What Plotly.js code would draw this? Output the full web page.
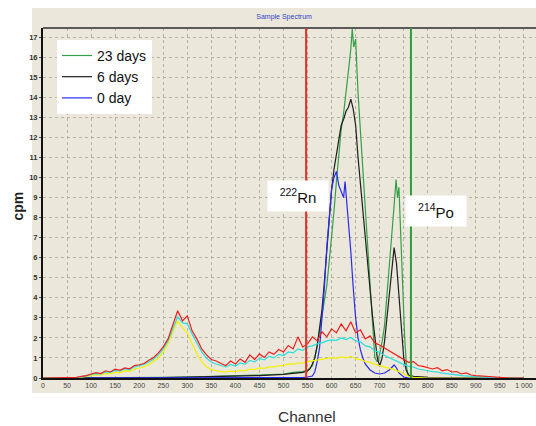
<!DOCTYPE html>
<html><head><meta charset="utf-8">
<script src="https://cdn.plot.ly/plotly-3.0.1.min.js"></script>
<style>html,body{margin:0;padding:0;background:#fff}#chart{width:536px;height:426px}</style>
</head><body><div id="chart"></div>
<script>
// ---- data ----
const bgChannels = [0,10,20,30,40,50,60,70,80,90,100,110,120,130,140,150,160,170,180,190,200,210,220,230,240,250,260,270,280,290,300,310,320,330,340,350,360,370,380,390,400,410,420,430,440,450,460,470,480,490,500,510,520,530,540,550,560,570,580,590,600,610,620,630,640,650,660,670,680,690,700,710,720,730,740,750,760,770,780,790,800,810,820,830,840,850,860,870,880,890,900,910,920,930,940,950,960,970,980,990,1000];
const redCpm = [0,0,0,0,0,0,0.01,0.03,0.08,0.12,0.2,0.27,0.22,0.36,0.3,0.44,0.38,0.5,0.46,0.62,0.66,0.72,0.88,1.02,1.25,1.55,1.95,2.6,3.35,2.85,3.1,2.35,1.95,1.45,1.15,0.92,0.85,0.72,0.62,0.85,0.7,0.95,0.78,1.15,0.92,1.2,1.02,1.3,1.18,1.42,1.3,1.62,1.45,2.05,1.55,1.7,2.05,1.85,2.3,2.05,2.45,2.25,2.7,2.35,2.8,2.25,2.4,1.95,2.1,1.75,1.65,1.5,1.35,1.22,1.05,0.92,0.78,0.82,0.62,0.58,0.5,0.45,0.52,0.36,0.42,0.3,0.32,0.2,0.25,0.15,0.12,0.1,0.08,0.05,0.03,0.01,0,0,0,0,0];
const cyanCpm = [0,0,0,0,0,0,0.01,0.02,0.06,0.1,0.16,0.22,0.2,0.3,0.28,0.38,0.35,0.45,0.42,0.55,0.6,0.68,0.8,0.95,1.15,1.45,1.85,2.45,3.05,2.75,2.7,2.2,1.75,1.3,0.98,0.8,0.7,0.62,0.55,0.68,0.6,0.75,0.68,0.88,0.8,0.98,0.9,1.08,1.0,1.18,1.12,1.3,1.25,1.45,1.38,1.55,1.6,1.7,1.75,1.85,1.9,1.88,2.0,1.92,2.02,1.85,1.8,1.6,1.55,1.35,1.28,1.12,1.0,0.88,0.78,0.68,0.58,0.55,0.45,0.42,0.36,0.32,0.3,0.24,0.22,0.18,0.16,0.12,0.1,0.08,0.06,0.04,0.03,0.02,0.01,0,0,0,0,0,0];
const yellowCpm = [0,0,0,0,0,0,0,0.01,0.04,0.07,0.12,0.16,0.15,0.22,0.2,0.28,0.27,0.35,0.33,0.45,0.5,0.56,0.68,0.82,1.0,1.3,1.7,2.3,2.85,2.5,2.25,1.7,1.2,0.8,0.55,0.42,0.36,0.32,0.3,0.34,0.32,0.38,0.36,0.44,0.42,0.5,0.48,0.56,0.55,0.62,0.62,0.7,0.68,0.76,0.74,0.82,0.85,0.9,0.92,0.98,1.02,0.98,1.05,1.0,1.08,0.95,0.92,0.82,0.78,0.68,0.62,0.55,0.48,0.42,0.32,0.18,0.08,0.03,0.01,0,0,0,0,0,0,0,0,0,0,0,0,0,0,0,0,0,0,0,0,0,0];

const greenChannels = [0,100,200,250,300,350,400,450,500,520,540,550,560,565,570,575,580,585,590,595,600,605,610,615,620,625,630,635,640,643,646,650,655,660,665,670,675,680,685,690,695,700,705,710,715,720,725,730,734,737,740,744,748,752,756,760,770,800,850,900,1000];
const green23d = [0,0,0.01,0.03,0.05,0.08,0.1,0.15,0.2,0.28,0.32,0.4,0.6,1.0,1.6,2.3,3.0,3.8,4.6,5.8,7.0,8.3,9.8,11.0,12.4,13.2,14.4,15.3,16.4,17.4,16.5,16.9,14.2,12.2,10.4,8.6,6.8,4.8,2.8,1.0,0.8,1.2,1.8,2.6,4.0,5.5,7.2,8.6,9.9,9.0,9.5,7.0,4.5,2.0,0.5,0.1,0.05,0.02,0.01,0,0];

const blackChannels = [0,100,200,250,300,350,400,450,500,520,540,550,555,560,565,570,575,580,585,590,595,600,605,610,615,620,625,630,635,640,645,650,655,660,665,670,675,680,685,690,695,700,705,710,715,720,725,730,735,740,745,750,755,760,770,800,900,1000];
const black6d = [0,0,0.01,0.02,0.04,0.06,0.08,0.12,0.18,0.22,0.28,0.35,0.45,0.7,1.0,1.6,2.4,3.4,4.8,6.4,8.0,9.4,10.4,11.2,11.8,12.6,12.9,13.3,13.5,13.9,13.4,12.6,11.0,9.6,8.2,6.9,5.8,4.4,3.1,1.9,1.0,0.6,1.0,1.8,3.0,4.3,5.6,6.5,5.7,4.2,2.6,1.0,0.4,0.15,0.08,0.03,0.01,0];

const blueChannels = [0,500,540,550,560,565,570,575,580,585,590,595,600,605,610,615,620,625,628,632,635,640,645,650,655,660,665,670,680,690,700,710,720,730,735,740,750,760,1000];
const blue0d = [0,0,0.02,0.05,0.1,0.3,0.8,1.5,2.8,4.5,6.5,8.2,9.4,10.0,10.3,9.6,9.3,9.0,9.8,8.6,8.0,6.3,4.5,3.0,2.0,1.4,1.0,0.7,0.4,0.25,0.2,0.25,0.4,0.65,0.5,0.25,0.05,0,0];

const markerChannels = [547, 765];      // 222Rn (red) and 214Po (green) marker lines
const markerLabels = ['<sup>222</sup>Rn', '<sup>214</sup>Po'];
const labelPos = [[530, 9.05], [817, 8.35]];

const xTickVals = [0,50,100,150,200,250,300,350,400,450,500,550,600,650,700,750,800,850,900,950,1000];
const xTickText = ['0','50','100','150','200','250','300','350','400','450','500','550','600','650','700','750','800','850','900','950','1 000'];

// ---- traces ----
const lw = 1.2;
const traces = [
  {x: greenChannels, y: green23d, name: '23 days', mode: 'lines', line: {color: '#34a046', width: lw}},
  {x: blackChannels, y: black6d, name: '6 days', mode: 'lines', line: {color: '#1e1e1e', width: lw}},
  {x: blueChannels, y: blue0d, name: '0 day', mode: 'lines', line: {color: '#2a2af2', width: lw}},
  {x: bgChannels, y: yellowCpm, name: 'yellow', mode: 'lines', showlegend: false, line: {color: '#f4f000', width: lw}},
  {x: bgChannels, y: cyanCpm, name: 'cyan', mode: 'lines', showlegend: false, line: {color: '#28dede', width: lw}},
  {x: bgChannels, y: redCpm, name: 'red', mode: 'lines', showlegend: false, line: {color: '#f01e1e', width: lw}}
];

const beige = '#EBE8DB';
const shapes = [
  {type: 'rect', xref: 'paper', yref: 'paper', x0: -0.0223, x1: 1.01, y0: -0.043, y1: 1.057, fillcolor: beige, line: {width: 0}, layer: 'below'},
  {type: 'line', xref: 'paper', yref: 'paper', x0: 0, x1: 1, y0: 1, y1: 1, line: {color: '#5a5a5a', width: 2}},
  {type: 'line', xref: 'x', yref: 'paper', x0: markerChannels[0], x1: markerChannels[0], y0: 0, y1: 1, line: {color: '#e8302a', width: 2}},
  {type: 'line', xref: 'x', yref: 'paper', x0: markerChannels[1], x1: markerChannels[1], y0: 0, y1: 1, line: {color: '#2e9e3e', width: 2}}
];

const annotations = [
  {text: markerLabels[0], x: labelPos[0][0], y: labelPos[0][1], xref: 'x', yref: 'y', showarrow: false, bgcolor: '#ffffff', width: 58, height: 28, font: {family: 'Arial, Liberation Sans', size: 15, color: '#111'}},
  {text: markerLabels[1], x: labelPos[1][0], y: labelPos[1][1], xref: 'x', yref: 'y', showarrow: false, bgcolor: '#ffffff', width: 58, height: 28, font: {family: 'Arial, Liberation Sans', size: 15, color: '#111'}},
  {text: '<b>cpm</b>', xref: 'paper', yref: 'paper', x: -0.0527, y: 0.49, textangle: -90, showarrow: false, xanchor: 'center', yanchor: 'middle', font: {family: 'Arial, Liberation Sans', size: 14, color: '#222'}},
  {text: 'Channel', xref: 'paper', yref: 'paper', x: 0.5355, y: -0.1086, showarrow: false, xanchor: 'center', yanchor: 'middle', font: {family: 'Arial, Liberation Sans', size: 15.5, color: '#333'}}
];

const layout = {
  width: 536, height: 426,
  margin: {l: 43, r: 0, t: 28, b: 48, pad: 0},
  paper_bgcolor: '#ffffff', plot_bgcolor: beige,
  font: {family: 'Arial, Liberation Sans, sans-serif'},
  title: {text: 'Sample Spectrum', font: {size: 7, color: '#3344cc'}, x: 0.489, xref: 'paper', xanchor: 'center', y: 0.96, yref: 'container', yanchor: 'middle'},
  xaxis: {range: [0, 1025], tickmode: 'array', tickvals: xTickVals, ticktext: xTickText, tickfont: {size: 7, color: '#444'},
          showgrid: true, gridcolor: '#b4b3a8', griddash: 'dot', gridwidth: 1, zeroline: false,
          showline: true, linecolor: '#111', linewidth: 2, ticks: '', fixedrange: true},
  yaxis: {range: [0, 17.45], dtick: 1, tick0: 0, tickfont: {size: 7.5, color: '#333', weight: 'bold'},
          showgrid: true, gridcolor: '#b4b3a8', griddash: 'dot', gridwidth: 1, zeroline: false,
          showline: true, linecolor: '#111', linewidth: 2, ticks: 'outside', ticklen: 2, tickcolor: '#555', fixedrange: true},
  legend: {x: 0.0284, y: 0.966, xanchor: 'left', yanchor: 'top', bgcolor: '#ffffff', borderwidth: 0,
           font: {size: 14, color: '#111', family: 'Arial, Liberation Sans'}},
  shapes: shapes,
  annotations: annotations
};

Plotly.newPlot('chart', traces, layout, {displayModeBar: false, staticPlot: true});
</script></body></html>
